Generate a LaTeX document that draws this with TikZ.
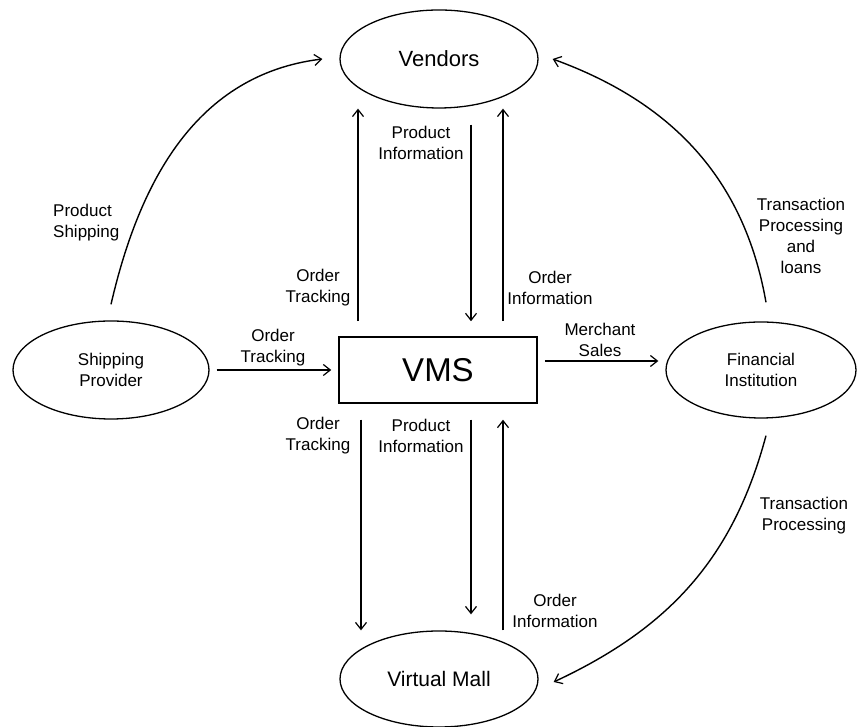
\documentclass[tikz,border=0pt]{standalone}
\usepackage{fontspec}
\setmainfont{Liberation Sans}
\usetikzlibrary{shapes.geometric,arrows.meta}

\begin{document}
\begin{tikzpicture}[x=1pt,y=1pt,
    ent/.style={ellipse, draw, line width=1.3pt, inner sep=0pt, align=center, font=\fontsize{17}{21}\selectfont},
    flujo/.style={line width=1.4pt, -{Straight Barb[length=7pt,width=11pt,line width=1.2pt]}},
    etq/.style={align=center, inner sep=0pt, font=\fontsize{17}{21}\selectfont}]
    \useasboundingbox (0,0) rectangle (857,727);

    % Entidades
    \node[ent, minimum width=198pt, minimum height=98pt, font=\fontsize{22}{26}\selectfont] (vend) at (439,668) {Vendors};
    \node[ent, minimum width=196pt, minimum height=98pt] (ship) at (111,357) {Shipping\\Provider};
    \node[ent, minimum width=190pt, minimum height=96pt] (fin) at (761,357) {Financial\\Institution};
    \node[ent, minimum width=198pt, minimum height=96pt, font=\fontsize{21}{25}\selectfont] (mall) at (439,48) {Virtual Mall};
    \node[draw, line width=1.5pt, minimum width=198pt, minimum height=66pt, font=\fontsize{33}{38}\selectfont] (vms) at (438,357) {VMS};

    % Flechas horizontales
    \draw[flujo, shorten <=7pt, shorten >=7pt] (ship.east) -- (vms.west);
    \draw[flujo, shorten <=7pt, shorten >=7pt] ([yshift=9pt]vms.east) -- ([yshift=9pt]fin.west);

    % Flechas verticales (arriba)
    \draw[flujo, shorten <=15pt] ([xshift=-80pt]vms.north) -- ([xshift=-81pt]vend.south);
    \draw[flujo, shorten <=16pt, shorten >=15pt] ([xshift=32pt]vend.south) -- ([xshift=33pt]vms.north);
    \draw[flujo, shorten <=15pt] ([xshift=65pt]vms.north) -- ([xshift=64pt]vend.south);

    % Flechas verticales (abajo)
    \draw[flujo, shorten <=16pt] ([xshift=-77pt]vms.south) -- ([xshift=-78pt]mall.north);
    \draw[flujo, shorten <=16pt, shorten >=16pt] ([xshift=33pt]vms.south) -- ([xshift=32pt]mall.north);
    \draw[flujo, shorten >=16pt] ([xshift=64pt]mall.north) -- ([xshift=65pt]vms.south);

    % Curvas
    \draw[flujo] ([yshift=16pt]ship.north) to[out=77,in=187] ([xshift=-17pt]vend.west);
    \draw[flujo] ([xshift=5pt,yshift=19pt]fin.north) to[out=100,in=-20] ([xshift=14pt]vend.east);
    \draw[flujo] ([xshift=5pt,yshift=-17pt]fin.south) to[out=255,in=25] ([xshift=15pt,yshift=-3pt]mall.east);

    % Etiquetas
    \node[etq, anchor=west, align=left] (lShip) at (53,504) {Product\\Shipping};
    \node[etq] (lOT1) at (318,439) {Order\\Tracking};
    \node[etq] (lPI1) at (421,584) {Product\\Information};
    \node[etq] (lOI1) at (550,439) {Order\\Information};
    \node[etq] (lOT0) at (273,379) {Order\\Tracking};
    \node[etq] (lMS)  at (600,387) {Merchant\\Sales};
    \node[etq] (lTPL) at (801,491) {Transaction\\Processing\\and\\loans};
    \node[etq] (lOT2) at (318,291) {Order\\Tracking};
    \node[etq] (lPI2) at (421,291) {Product\\Information};
    \node[etq] (lOI2) at (555,116) {Order\\Information};
    \node[etq] (lTP)  at (804,211) {Transaction\\Processing};
\end{tikzpicture}
\end{document}
